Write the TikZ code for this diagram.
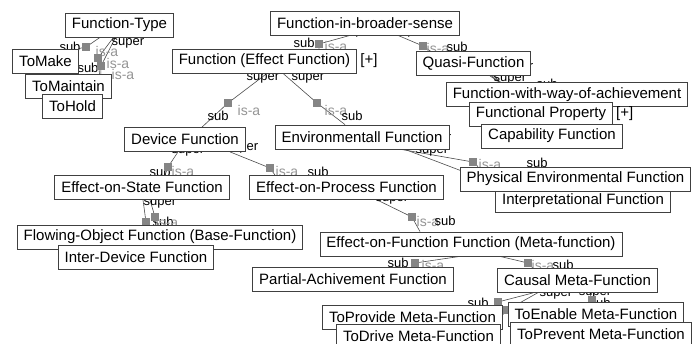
\documentclass[tikz,border=0pt]{standalone}
\usepackage{fontspec}
\setmainfont{Liberation Sans}
\usepackage{tikz}
\usetikzlibrary{backgrounds}

\tikzset{
  cls/.style={draw=black!75, fill=white, line width=0.8pt, inner xsep=6.5pt, inner ysep=0pt,
    minimum height=24pt, font=\fontsize{15}{15}\selectfont},
  plus/.style={anchor=west, inner sep=0pt, font=\fontsize{15}{15}\selectfont},
  isaline/.style={draw=black!70, line width=0.6pt},
  isamark/.style={fill=black!48, minimum size=8pt, inner sep=0pt},
  isatext/.style={text=black!42, inner sep=0pt, font=\fontsize{14}{14}\selectfont},
  role/.style={inner sep=0pt, font=\fontsize{13}{13}\selectfont},
}

\begin{document}
\begin{tikzpicture}[x=1pt,y=-1pt]
            \useasboundingbox (0,0) rectangle (698,343);
            \node[cls] (ftype) at (119.5,25) {Function-Type};
            \node[cls] (tomake) at (45.5,61) {ToMake};
            \node[cls] (tomaintain) at (68.5,86.5) {ToMaintain};
            \node[cls] (tohold) at (72.5,106) {ToHold};
            \node[cls] (fbroad) at (365,23) {Function-in-broader-sense};
            \node[cls] (feffect) at (264.5,61) {Function (Effect Function)};
            \node[plus] (feffectplus) at ([xshift=3pt]feffect.east) {[+]};
            \node[cls] (quasi) at (473.5,63.5) {Quasi-Function};
            \node[cls] (fwway) at (567,94.5) {Function-with-way-of-achievement};
            \node[cls] (fprop) at (541,114) {Functional Property};
            \node[plus] (fpropplus) at ([xshift=3pt]fprop.east) {[+]};
            \node[cls] (capab) at (552,136) {Capability Function};
            \node[cls] (device) at (185,139.5) {Device Function};
            \node[cls] (environ) at (362,137) {Environmentall Function};
            \node[cls] (estate) at (142,187.5) {Effect-on-State Function};
            \node[cls] (eproc) at (346.5,187.5) {Effect-on-Process Function};
            \node[cls] (interp) at (583,200.5) {Interpretational Function};
            \node[cls] (physenv) at (575.5,179) {Physical Environmental Function};
            \node[cls] (flowing) at (160,237) {Flowing-Object Function (Base-Function)};
            \node[cls] (interdev) at (136,257) {Inter-Device Function};
            \node[cls] (efunc) at (471,244) {Effect-on-Function Function (Meta-function)};
            \node[cls] (partial) at (353,279) {Partial-Achivement Function};
            \node[cls] (causal) at (577.5,280.5) {Causal Meta-Function};
            \node[cls] (toprovide) at (412.5,317.5) {ToProvide Meta-Function};
            \node[cls] (todrive) at (418.5,336) {ToDrive Meta-Function};
            \node[cls] (toenable) at (596,314) {ToEnable Meta-Function};
            \node[cls] (toprevent) at (601,334) {ToPrevent Meta-Function};

            \coordinate (m1) at (86,47);   \coordinate (m2) at (98,58);   \coordinate (m3) at (101,66);
            \coordinate (m4) at (319,44);  \coordinate (m5) at (423,46);
            \coordinate (m6) at (228,103); \coordinate (m7) at (317,103);
            \coordinate (m8) at (168,167); \coordinate (m9) at (270,168);
            \coordinate (m10) at (473,162); \coordinate (m11) at (496,184);
            \coordinate (m12) at (412,217); \coordinate (m13) at (146,222); \coordinate (m14) at (155,217);
            \coordinate (m15) at (415,263); \coordinate (m16) at (528,263);
            \coordinate (m17) at (498,302); \coordinate (m18) at (507,310);
            \coordinate (m19) at (592,300); \coordinate (m20) at (596,318);
            \coordinate (m21) at (508,88); \coordinate (m22) at (512,92); \coordinate (m23) at (516,96);

            \begin{pgfonlayer}{background}
            \draw[isaline] ([xshift=-19.5pt]ftype.south) -- (m1) -- (tomake.north east);
            \draw[isaline] ([xshift=-6pt]ftype.south) -- (m2) -- ([xshift=31pt]tomaintain.north);
            \draw[isaline] ([xshift=-4pt]ftype.south) -- (m3) -- ([xshift=28pt]tohold.north);
            \draw[isaline] ([xshift=-15pt]fbroad.south) -- (m4) -- ([xshift=54.5pt]feffect.north);
            \draw[isaline] ([xshift=33pt]fbroad.south) -- (m5) -- ([xshift=-43pt]quasi.north);
            \draw[isaline] ([xshift=16.5pt]quasi.south) -- (m21) -- ([xshift=-55pt]fwway.north);
            \draw[isaline] ([xshift=18pt]quasi.south) -- (m22) -- ([xshift=-25pt]fprop.north);
            \draw[isaline] ([xshift=20pt]quasi.south) -- (m23) -- ([xshift=-30pt]capab.north);
            \draw[isaline] ([xshift=2.5pt]feffect.south) -- (m6) -- ([xshift=17pt]device.north);
            \draw[isaline] ([xshift=18.5pt]feffect.south) -- (m7) -- ([xshift=-17pt]environ.north);
            \draw[isaline] ([xshift=-7pt]device.south) -- (m8) -- ([xshift=23pt]estate.north);
            \draw[isaline] ([xshift=45pt]device.south) -- (m9) -- ([xshift=-71.5pt]eproc.north);
            \draw[isaline] ([xshift=39pt]environ.south) -- (m10) -- ([xshift=-97.5pt]physenv.north);
            \draw[isaline] ([xshift=43pt]environ.south) -- (m11) -- ([xshift=-78pt]interp.north);
            \draw[isaline] ([xshift=30.5pt]eproc.south) -- (m12) -- ([xshift=-51pt]efunc.north);
            \draw[isaline] ([xshift=1pt]estate.south) -- (m13) -- ([xshift=-14pt]flowing.north);
            \draw[isaline] ([xshift=8pt]estate.south) -- (m14) -- ([xshift=21pt]interdev.north);
            \draw[isaline] ([xshift=-11pt]efunc.south) -- (m15) -- ([xshift=65pt]partial.north);
            \draw[isaline] ([xshift=29pt]efunc.south) -- (m16) -- ([xshift=-44.5pt]causal.north);
            \draw[isaline] ([xshift=-44.5pt]causal.south) -- (m17) -- ([xshift=82.5pt]toprovide.north);
            \draw[isaline] ([xshift=-40pt]causal.south) -- (m18) -- ([xshift=76pt]todrive.north);
            \draw[isaline] ([xshift=12.5pt]causal.south) -- (m19) -- ([xshift=-4pt]toenable.north);
            \draw[isaline] ([xshift=16pt]causal.south) -- (m20) -- ([xshift=-5pt]toprevent.north);

            \node[role] (sp1) at (128,43) {super};
            \node[role] (sb1) at (70,47) {sub};
            \node[role] (sb2) at (88,68) {sub};
            \node[isatext] (ia1) at (107,51) {is-a};
            \node[isatext] (ia2) at (118,63) {is-a};
            \node[isatext] (ia3) at (123,74) {is-a};
            \node[role] (sp2) at (358,32) {super};
            \node[role] (sp3) at (410,32) {super};
            \node[role] (sb3) at (304,43) {sub};
            \node[isatext] (ia4) at (336,46) {is-a};
            \node[isatext] (ia5) at (438,48) {is-a};
            \node[role] (sb4) at (457,47) {sub};
            \node[role] (sp4) at (510,79) {super};
            \node[role] (sp5) at (517,68) {super};
            \node[role] (sb5) at (547,84) {sub};
            \node[role] (sp6) at (263,78) {super};
            \node[role] (sp7) at (308,78) {super};
            \node[isatext] (ia6) at (249,110) {is-a};
            \node[role] (sb6) at (218,116) {sub};
            \node[isatext] (ia7) at (336,110) {is-a};
            \node[role] (sb7) at (352,116) {sub};
            \node[role] (sp8) at (188,151) {super};
            \node[role] (sp9) at (242,148) {super};
            \node[role] (sb8) at (160,172) {sub};
            \node[isatext] (ia8) at (183,171) {is-a};
            \node[isatext] (ia9) at (287,171) {is-a};
            \node[role] (sb9) at (318,172) {sub};
            \node[role] (sp10) at (432,151) {super};
            \node[role] (sp11) at (435,139) {super};
            \node[isatext] (ia10) at (490,164) {is-a};
            \node[role] (sb10) at (537,163) {sub};
            \node[role] (sp12) at (392,199) {super};
            \node[isatext] (ia11) at (428,221) {is-a};
            \node[role] (sb11) at (445,221) {sub};
            \node[role] (sp13) at (160,203) {super};
            \node[role] (sb12) at (163,222) {sub};
            \node[isatext] (ia12) at (167,222) {is-a};
            \node[role] (sp14) at (458,252) {super};
            \node[role] (sp15) at (515,252) {super};
            \node[role] (sb13) at (398,263) {sub};
            \node[isatext] (ia13) at (433,265) {is-a};
            \node[isatext] (ia14) at (543,265) {is-a};
            \node[role] (sb14) at (563,265) {sub};
            \node[role] (sp16) at (556,294) {super};
            \node[role] (sp17) at (595,293) {super};
            \node[role] (sb15) at (478,303) {sub};
            \node[role] (sb16) at (600,303) {sub};

            \foreach \m in {1,...,23}
              \node[isamark] (mk\m) at (m\m) {};
            \end{pgfonlayer}
        \end{tikzpicture}
\end{document}
